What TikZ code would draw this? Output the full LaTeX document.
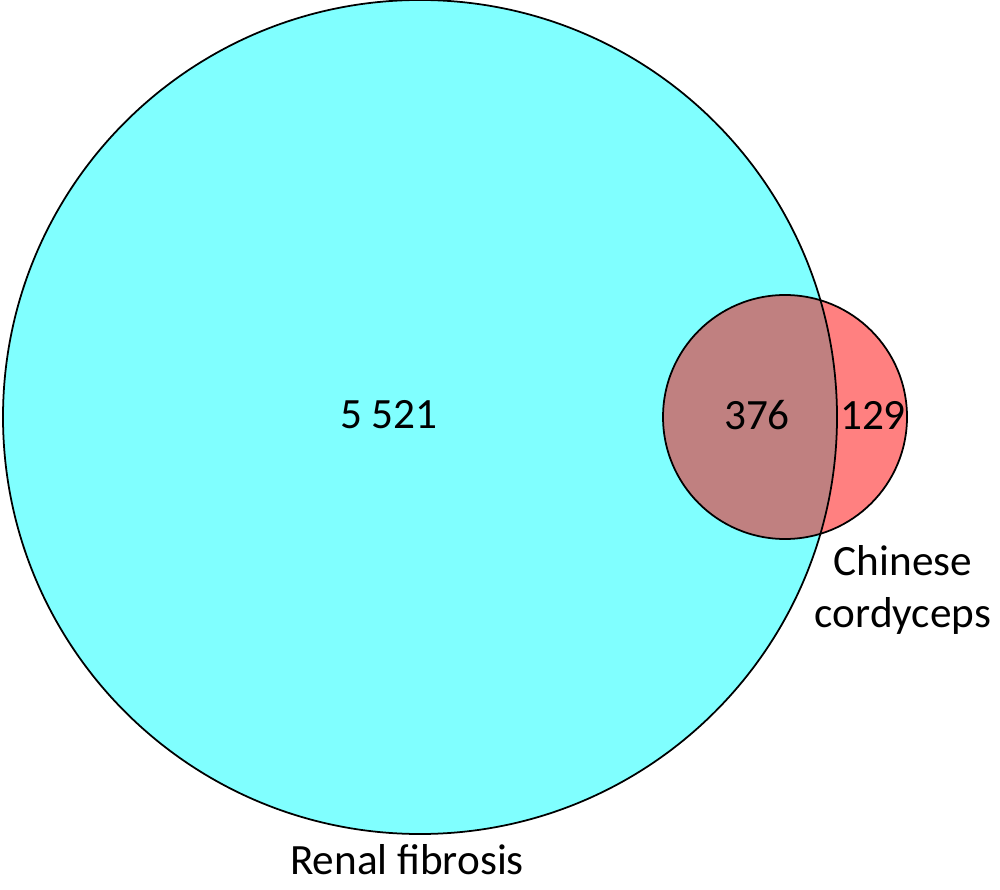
\documentclass[tikz,border=0pt]{standalone}
\usepackage{fontspec}
\setmainfont{Carlito}
\usepackage{tikz}
\usetikzlibrary{positioning}

\definecolor{rfcyan}{HTML}{80FFFF}
\definecolor{cored}{HTML}{FF8080}
\definecolor{overlap}{HTML}{C08080}

\begin{document}
\begin{tikzpicture}[
    setline/.style={draw=black, line width=0.5pt},
    countlbl/.style={font=\fontsize{12.3}{14.6}\selectfont, inner sep=0pt},
    setlbl/.style={countlbl, align=center}]
    \useasboundingbox (0,0) rectangle (10,8.89);
    % Sets
    \coordinate (rfc) at (4.20,4.72);
    \coordinate (ccc) at (7.85,4.72);
    \fill[rfcyan] (rfc) circle (4.17);
    \fill[cored] (ccc) circle (1.22);
    \begin{scope}
      \clip (rfc) circle (4.17);
      \fill[overlap] (ccc) circle (1.22);
    \end{scope}
    \draw[setline] (rfc) circle (4.17);
    \draw[setline] (ccc) circle (1.22);
    % Counts
    \node[countlbl] (only-rf) at (3.89,4.74) {5 521};
    \node[countlbl] (both) at (7.57,4.74) {376};
    \node[countlbl] (only-cc) at (8.73,4.74) {129};
    % Labels
    \node[setlbl] (lbl-cc) at (9.03,2.99) {Chinese\\cordyceps};
    \node[setlbl] (lbl-rf) at (4.07,0.29) {Renal fibrosis};
  \end{tikzpicture}
\end{document}
